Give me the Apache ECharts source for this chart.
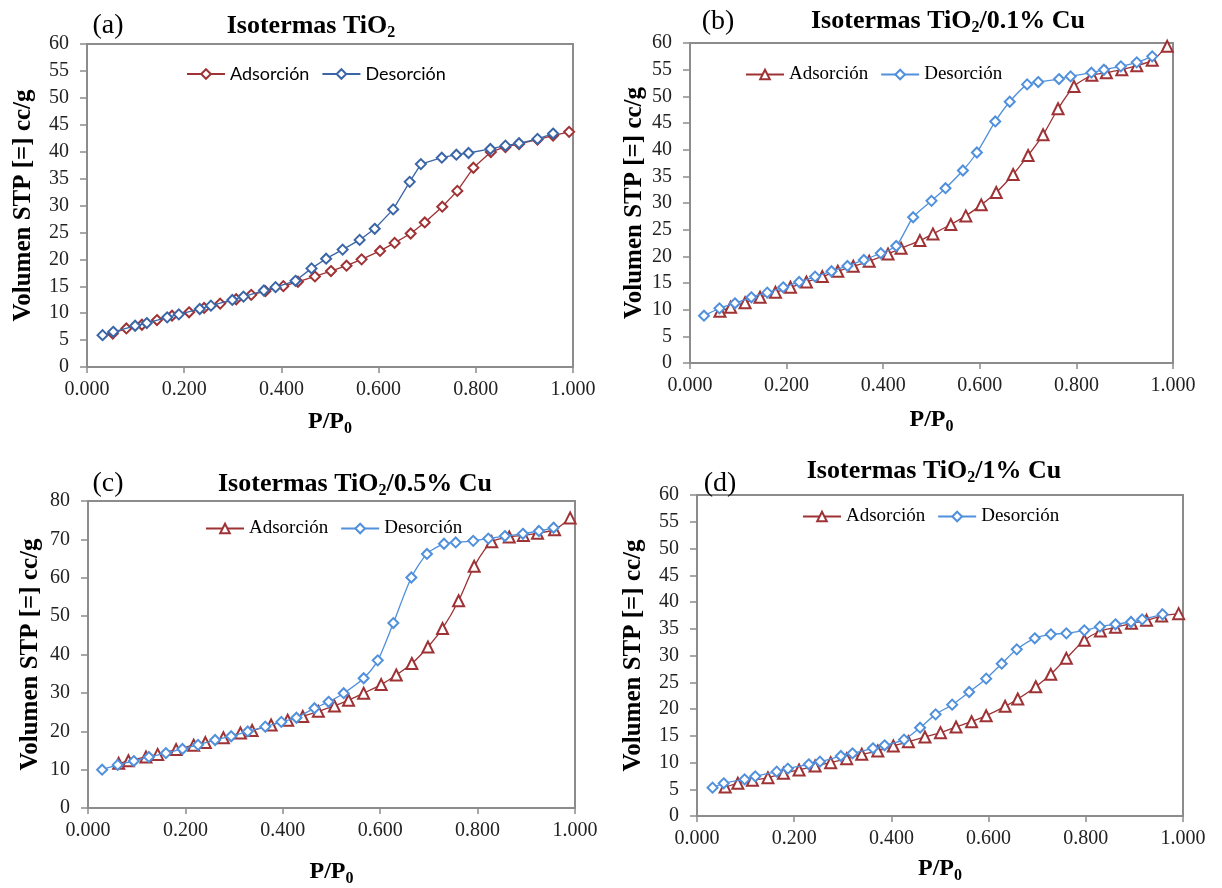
<!DOCTYPE html>
<html><head><meta charset="utf-8">
<script src="https://cdn.jsdelivr.net/npm/echarts@6/dist/echarts.min.js"></script>
<style>html,body{margin:0;padding:0;background:#fff}#c{width:1222px;height:888px}</style>
</head><body><div id="c"></div>
<script>
// ---------- data ----------
const panelLetters = ['(a)', '(b)', '(c)', '(d)'];
const titleMain = ['Isotermas TiO', 'Isotermas TiO', 'Isotermas TiO', 'Isotermas TiO'];
const titleSub = ['2', '2', '2', '2'];
const titleTail = ['', '/0.1% Cu', '/0.5% Cu', '/1% Cu'];
const seriesNames = ['Adsorción', 'Desorción'];
const xAxisTitle = ['P/P', '0'];
const yAxisTitle = 'Volumen STP [=] cc/g';
const yMax = [60, 60, 80, 60];
const yStep = [5, 5, 10, 5];
const xTickStep = 0.2;

// (a) TiO2
const a_ads_p = [0.053,0.081,0.113,0.144,0.175,0.210,0.241,0.274,0.307,0.338,0.367,0.404,0.434,0.469,0.502,0.534,0.565,0.603,0.633,0.666,0.695,0.731,0.762,0.795,0.831,0.861,0.889,0.927,0.959,0.992];
const a_ads_v = [6.23,7.16,7.85,8.72,9.53,10.16,10.97,11.78,12.59,13.40,14.08,15.02,15.83,16.82,17.82,18.82,20.00,21.56,23.05,24.80,26.85,29.78,32.71,37.01,39.94,40.87,41.43,42.24,42.99,43.68];
const a_des_p = [0.032,0.054,0.099,0.123,0.165,0.189,0.232,0.255,0.299,0.322,0.364,0.388,0.429,0.462,0.492,0.526,0.561,0.592,0.630,0.664,0.687,0.730,0.760,0.785,0.830,0.861,0.889,0.927,0.959];
const a_des_v = [5.92,6.54,7.66,8.16,9.22,9.78,10.78,11.40,12.46,13.08,14.21,14.83,16.01,18.32,20.12,21.81,23.61,25.67,29.28,34.39,37.69,38.88,39.44,39.75,40.50,41.12,41.56,42.37,43.36];

// (b) TiO2/0.1% Cu
const b_ads_p = [0.062,0.084,0.114,0.145,0.177,0.208,0.241,0.274,0.306,0.338,0.371,0.410,0.437,0.476,0.503,0.540,0.571,0.603,0.634,0.669,0.700,0.731,0.762,0.795,0.832,0.862,0.894,0.925,0.957,0.988];
const b_ads_v = [9.69,10.44,11.31,12.32,13.25,14.19,15.19,16.20,17.20,18.14,19.07,20.45,21.51,22.95,24.21,25.96,27.58,29.65,31.96,35.34,38.91,42.79,47.67,51.86,53.93,54.43,54.99,55.74,56.75,59.37];
const b_des_p = [0.029,0.061,0.093,0.127,0.160,0.193,0.226,0.259,0.293,0.326,0.360,0.395,0.427,0.462,0.500,0.529,0.565,0.594,0.632,0.662,0.698,0.721,0.764,0.788,0.831,0.857,0.892,0.925,0.957];
const b_des_v = [8.87,10.25,11.19,12.32,13.19,14.19,15.19,16.20,17.20,18.20,19.32,20.58,21.95,27.33,30.40,32.78,36.10,39.47,45.29,48.99,52.24,52.68,53.24,53.74,54.43,54.99,55.62,56.37,57.50];

// (c) TiO2/0.5% Cu
const c_ads_p = [0.063,0.083,0.119,0.143,0.181,0.217,0.241,0.278,0.313,0.337,0.376,0.410,0.441,0.473,0.506,0.535,0.566,0.602,0.633,0.665,0.698,0.728,0.761,0.793,0.829,0.865,0.894,0.923,0.958,0.990];
const c_ads_v = [11.64,12.31,13.31,13.97,15.22,16.38,17.04,18.29,19.53,20.20,21.61,22.86,23.85,25.18,26.59,28.09,29.92,32.16,34.65,37.64,41.96,46.78,54.00,62.97,69.37,70.61,71.03,71.61,72.52,75.60];
const c_des_p = [0.029,0.061,0.094,0.125,0.160,0.194,0.226,0.261,0.294,0.328,0.364,0.397,0.428,0.465,0.494,0.525,0.566,0.595,0.627,0.664,0.696,0.731,0.755,0.791,0.822,0.856,0.893,0.926,0.956];
const c_des_v = [9.98,11.23,12.23,13.31,14.30,15.38,16.46,17.71,18.70,19.95,21.20,22.44,23.52,26.01,27.67,29.92,33.82,38.47,48.19,60.07,66.21,68.87,69.20,69.62,70.20,70.86,71.45,72.19,73.02];

// (d) TiO2/1% Cu
const d_ads_p = [0.058,0.084,0.114,0.146,0.178,0.210,0.243,0.275,0.308,0.339,0.372,0.404,0.435,0.469,0.501,0.533,0.565,0.595,0.634,0.660,0.697,0.728,0.760,0.797,0.830,0.861,0.894,0.925,0.956,0.991];
const d_ads_v = [5.42,6.11,6.67,7.17,7.98,8.60,9.35,9.97,10.72,11.53,12.15,13.08,13.89,14.77,15.58,16.64,17.63,18.75,20.50,21.87,24.17,26.48,29.47,32.83,34.58,35.26,36.01,36.57,37.38,37.82];
const d_des_p = [0.032,0.055,0.098,0.120,0.164,0.187,0.230,0.253,0.296,0.320,0.362,0.386,0.426,0.459,0.491,0.525,0.560,0.595,0.627,0.658,0.695,0.728,0.760,0.797,0.829,0.861,0.893,0.916,0.958];
const d_des_v = [5.30,6.11,6.85,7.41,8.29,8.85,9.66,10.16,11.21,11.71,12.65,13.21,14.27,16.51,19.00,20.81,23.18,25.67,28.47,31.15,33.21,33.96,34.14,34.70,35.39,35.83,36.26,36.76,37.69];

// ---------- styles / layout ----------
const SERIF = "'Liberation Serif','Times New Roman',serif";
const SANS = "Lato,'Liberation Sans',sans-serif";
const RED = '#9E3235';
const BLUE_A = '#3A65A6';
const BLUE_L = '#5090DC';
const GREY = '#8C8C8C';

const grids = [
  {left: 87, top: 44, width: 486, height: 323},
  {left: 690, top: 43, width: 483, height: 320},
  {left: 88, top: 501, width: 487, height: 321},
  {left: 697, top: 495, width: 486, height: 321}
];
const legendPos = [
  {left: 181, top: 60}, {left: 740, top: 60}, {left: 200, top: 514}, {left: 797, top: 502}
];
const titlePos = [[311, 26], [948, 21], [355, 484], [934, 471]];
const letterPos = [[108, 26], [718, 22], [108, 484], [720, 484]];
const yNameGap = [51, 43, 45, 51];
const xNameGap = [40, 42, 49, 38];

const adsP = [a_ads_p, b_ads_p, c_ads_p, d_ads_p];
const adsV = [a_ads_v, b_ads_v, c_ads_v, d_ads_v];
const desP = [a_des_p, b_des_p, c_des_p, d_des_p];
const desV = [a_des_v, b_des_v, c_des_v, d_des_v];
const zip = (p, v) => p.map((x, i) => [x, v[i]]);

const subRich = {
  b: {fontFamily: SERIF, fontWeight: 'bold', fontSize: 26, color: '#000'},
  s: {fontFamily: SERIF, fontWeight: 'bold', fontSize: 16, color: '#000', padding: [14, 0, 0, 0]}
};

const option = {
  backgroundColor: '#fff',
  animation: false,
  grid: grids.map(g => Object.assign({show: true, borderColor: GREY, borderWidth: 2, backgroundColor: 'transparent'}, g)),
  xAxis: grids.map((g, i) => ({
    type: 'value', gridIndex: i, min: 0, max: 1, interval: xTickStep,
    name: '{b|' + xAxisTitle[0] + '}{s|' + xAxisTitle[1] + '}',
    nameLocation: 'middle', nameGap: xNameGap[i],
    nameTextStyle: {rich: {
      b: {fontFamily: SERIF, fontWeight: 'bold', fontSize: 24, color: '#000'},
      s: {fontFamily: SERIF, fontWeight: 'bold', fontSize: 16, color: '#000', padding: [14, 0, 0, 0]}
    }},
    axisLine: {show: true, lineStyle: {color: GREY, width: 2}},
    axisTick: {show: true, inside: false, length: 6, lineStyle: {color: GREY, width: 1.5}},
    splitLine: {show: false},
    axisLabel: {formatter: v => v.toFixed(3), fontFamily: SERIF, fontSize: 20, color: '#222', margin: 13,
                showMinLabel: true, showMaxLabel: true}
  })),
  yAxis: grids.map((g, i) => ({
    type: 'value', gridIndex: i, min: 0, max: yMax[i], interval: yStep[i],
    name: yAxisTitle, nameLocation: 'middle', nameGap: yNameGap[i],
    nameTextStyle: {fontFamily: SERIF, fontWeight: 'bold', fontSize: 25, color: '#000'},
    axisLine: {show: true, lineStyle: {color: GREY, width: 2}},
    axisTick: {show: true, inside: false, length: 7, lineStyle: {color: GREY, width: 1.5}},
    splitLine: {show: false},
    axisLabel: {fontFamily: SERIF, fontSize: 20, color: '#222', margin: 18}
  })),
  legend: grids.map((g, i) => ({
    data: [seriesNames[0] + ' ' + panelLetters[i], seriesNames[1] + ' ' + panelLetters[i]],
    formatter: n => n.replace(/ \(.\)$/, ''),
    left: legendPos[i].left, top: legendPos[i].top, orient: 'horizontal',
    itemWidth: 38, itemHeight: 12, itemGap: 12,
    textStyle: {fontFamily: i === 0 ? SANS : SERIF, fontSize: i === 0 ? 18 : 19, color: '#000'}
  })),
  graphic: [
    ...titlePos.map((p, i) => ({
      type: 'text', x: p[0], y: p[1],
      style: {text: '{b|' + titleMain[i] + '}{s|' + titleSub[i] + '}{b|' + titleTail[i] + '}',
              rich: subRich, align: 'center', verticalAlign: 'middle'}
    })),
    ...letterPos.map((p, i) => ({
      type: 'text', x: p[0], y: p[1],
      style: {text: panelLetters[i], font: "28px " + SERIF, fill: '#000', align: 'center', verticalAlign: 'middle'}
    }))
  ],
  series: []
};

grids.forEach((g, i) => {
  const blue = i === 0 ? BLUE_A : BLUE_L;
  option.series.push({
    name: seriesNames[0] + ' ' + panelLetters[i], type: 'line', xAxisIndex: i, yAxisIndex: i,
    data: zip(adsP[i], adsV[i]),
    symbol: i === 0 ? 'emptyDiamond' : 'emptyTriangle', symbolSize: i === 0 ? 10 : 11,
    smooth: i === 0 ? false : 0.25,
    lineStyle: {color: RED, width: 1.3},
    itemStyle: {color: RED, borderColor: RED, borderWidth: 1.4},
    z: 2
  });
  option.series.push({
    name: seriesNames[1] + ' ' + panelLetters[i], type: 'line', xAxisIndex: i, yAxisIndex: i,
    data: zip(desP[i], desV[i]),
    symbol: 'emptyDiamond', symbolSize: 10,
    smooth: i === 0 ? false : 0.25,
    lineStyle: {color: blue, width: 1.3},
    itemStyle: {color: blue, borderColor: blue, borderWidth: 1.4},
    z: 3
  });
});

const chart = echarts.init(document.getElementById('c'), null, {renderer: 'canvas'});
chart.setOption(option);
</script></body></html>
